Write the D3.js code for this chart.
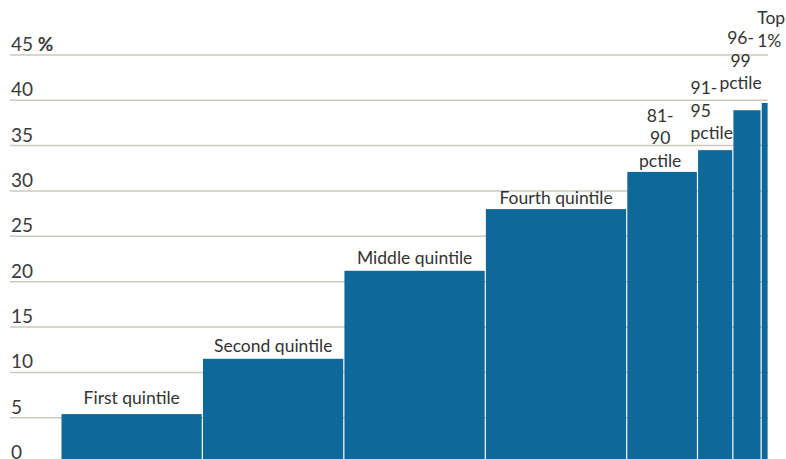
<!DOCTYPE html>
<html>
<head>
<meta charset="utf-8">
<script src="https://cdn.jsdelivr.net/npm/d3@7"></script>
<style>
  body { margin: 0; background: #fff; }
  svg { display: block; font-family: Lato, "Noto Sans", sans-serif; }
</style>
</head>
<body>
<svg width="786" height="459"></svg>
<script>
// groups, share of households (width) and value in percent (height)
const groups = ["First quintile", "Second quintile", "Middle quintile", "Fourth quintile",
                "81-90 pctile", "91-95 pctile", "96-99 pctile", "Top 1%"]
const shares = [20, 20, 20, 20, 10, 5, 4, 1]
const values = [5.4, 11.5, 21.2, 28.0, 32.1, 34.5, 38.9, 39.7]
const labelLines = [["First quintile"], ["Second quintile"], ["Middle quintile"], ["Fourth quintile"],
                    ["81-", "90", "pctile"], ["91-", "95", "pctile"], ["96-", "99", "pctile"], ["Top", "1%"]]
const yTicks = [0, 5, 10, 15, 20, 25, 30, 35, 40, 45]

const svg = d3.select("svg")

const x = d3.scaleLinear().domain([0, 100]).range([61, 768.3])
const y = d3.scaleLinear().domain([0, 45]).range([463.1, 54.9])

// cumulative start of each bar
const starts = d3.cumsum([0].concat(shares.slice(0, -1)))
const bars = groups.map((g, i) => ({ name: g, x0: starts[i], x1: starts[i] + shares[i], v: values[i], lines: labelLines[i] }))

// grid
const grid = svg.append("g")
grid.selectAll("line")
    .data(yTicks)
    .enter()
    .append("line")
    .attr("x1", 10)
    .attr("x2", 768)
    .attr("y1", d => y(d))
    .attr("y2", d => y(d))
    .attr("stroke", "#cdc9c1")
    .attr("stroke-width", 1.5)

grid.selectAll("text")
    .data(yTicks)
    .enter()
    .append("text")
    .attr("x", 11)
    .attr("y", d => y(d) - 4)
    .attr("fill", "#3a3a3a")
    .attr("font-size", 19)
    .each(function(d) {
        const t = d3.select(this)
        t.append("tspan").text(d)
        if (d === 45) t.append("tspan").attr("font-weight", "bold").text(" %")
    })

// bars
svg.append("g")
    .selectAll("rect")
    .data(bars)
    .enter()
    .append("rect")
    .attr("x", d => x(d.x0) + 0.5)
    .attr("width", d => x(d.x1) - x(d.x0) - 1.2)
    .attr("y", d => y(d.v))
    .attr("height", d => y(0) - y(d.v))
    .attr("fill", "#0e6899")

// labels: gap above bar, horizontal nudge and anchor, per bar
const gaps = [10, 7, 7, 5, 5, 11, 21, 56]
const nudges = [0, 0, 0, 0, -2, -7, -6.5, -4]
const anchors = ["middle", "middle", "middle", "middle", "middle", "start", "middle", "start"]
const lineH = 22.5

const lab = svg.append("g")
    .selectAll("text")
    .data(bars)
    .enter()
    .append("text")
    .attr("fill", "#333")
    .attr("font-size", 17.5)
    .attr("text-anchor", (d, i) => anchors[i])

lab.each(function(d, i) {
    const base = anchors[i] === "start" ? x(d.x0) : (x(d.x0) + x(d.x1)) / 2
    const cx = base + nudges[i]
    const bottom = y(d.v) - gaps[i]
    const n = d.lines.length
    d3.select(this).selectAll("tspan")
        .data(d.lines)
        .enter()
        .append("tspan")
        .attr("x", cx)
        .attr("y", (l, k) => bottom - (n - 1 - k) * lineH)
        .text(l => l)
})
</script>
</body>
</html>
